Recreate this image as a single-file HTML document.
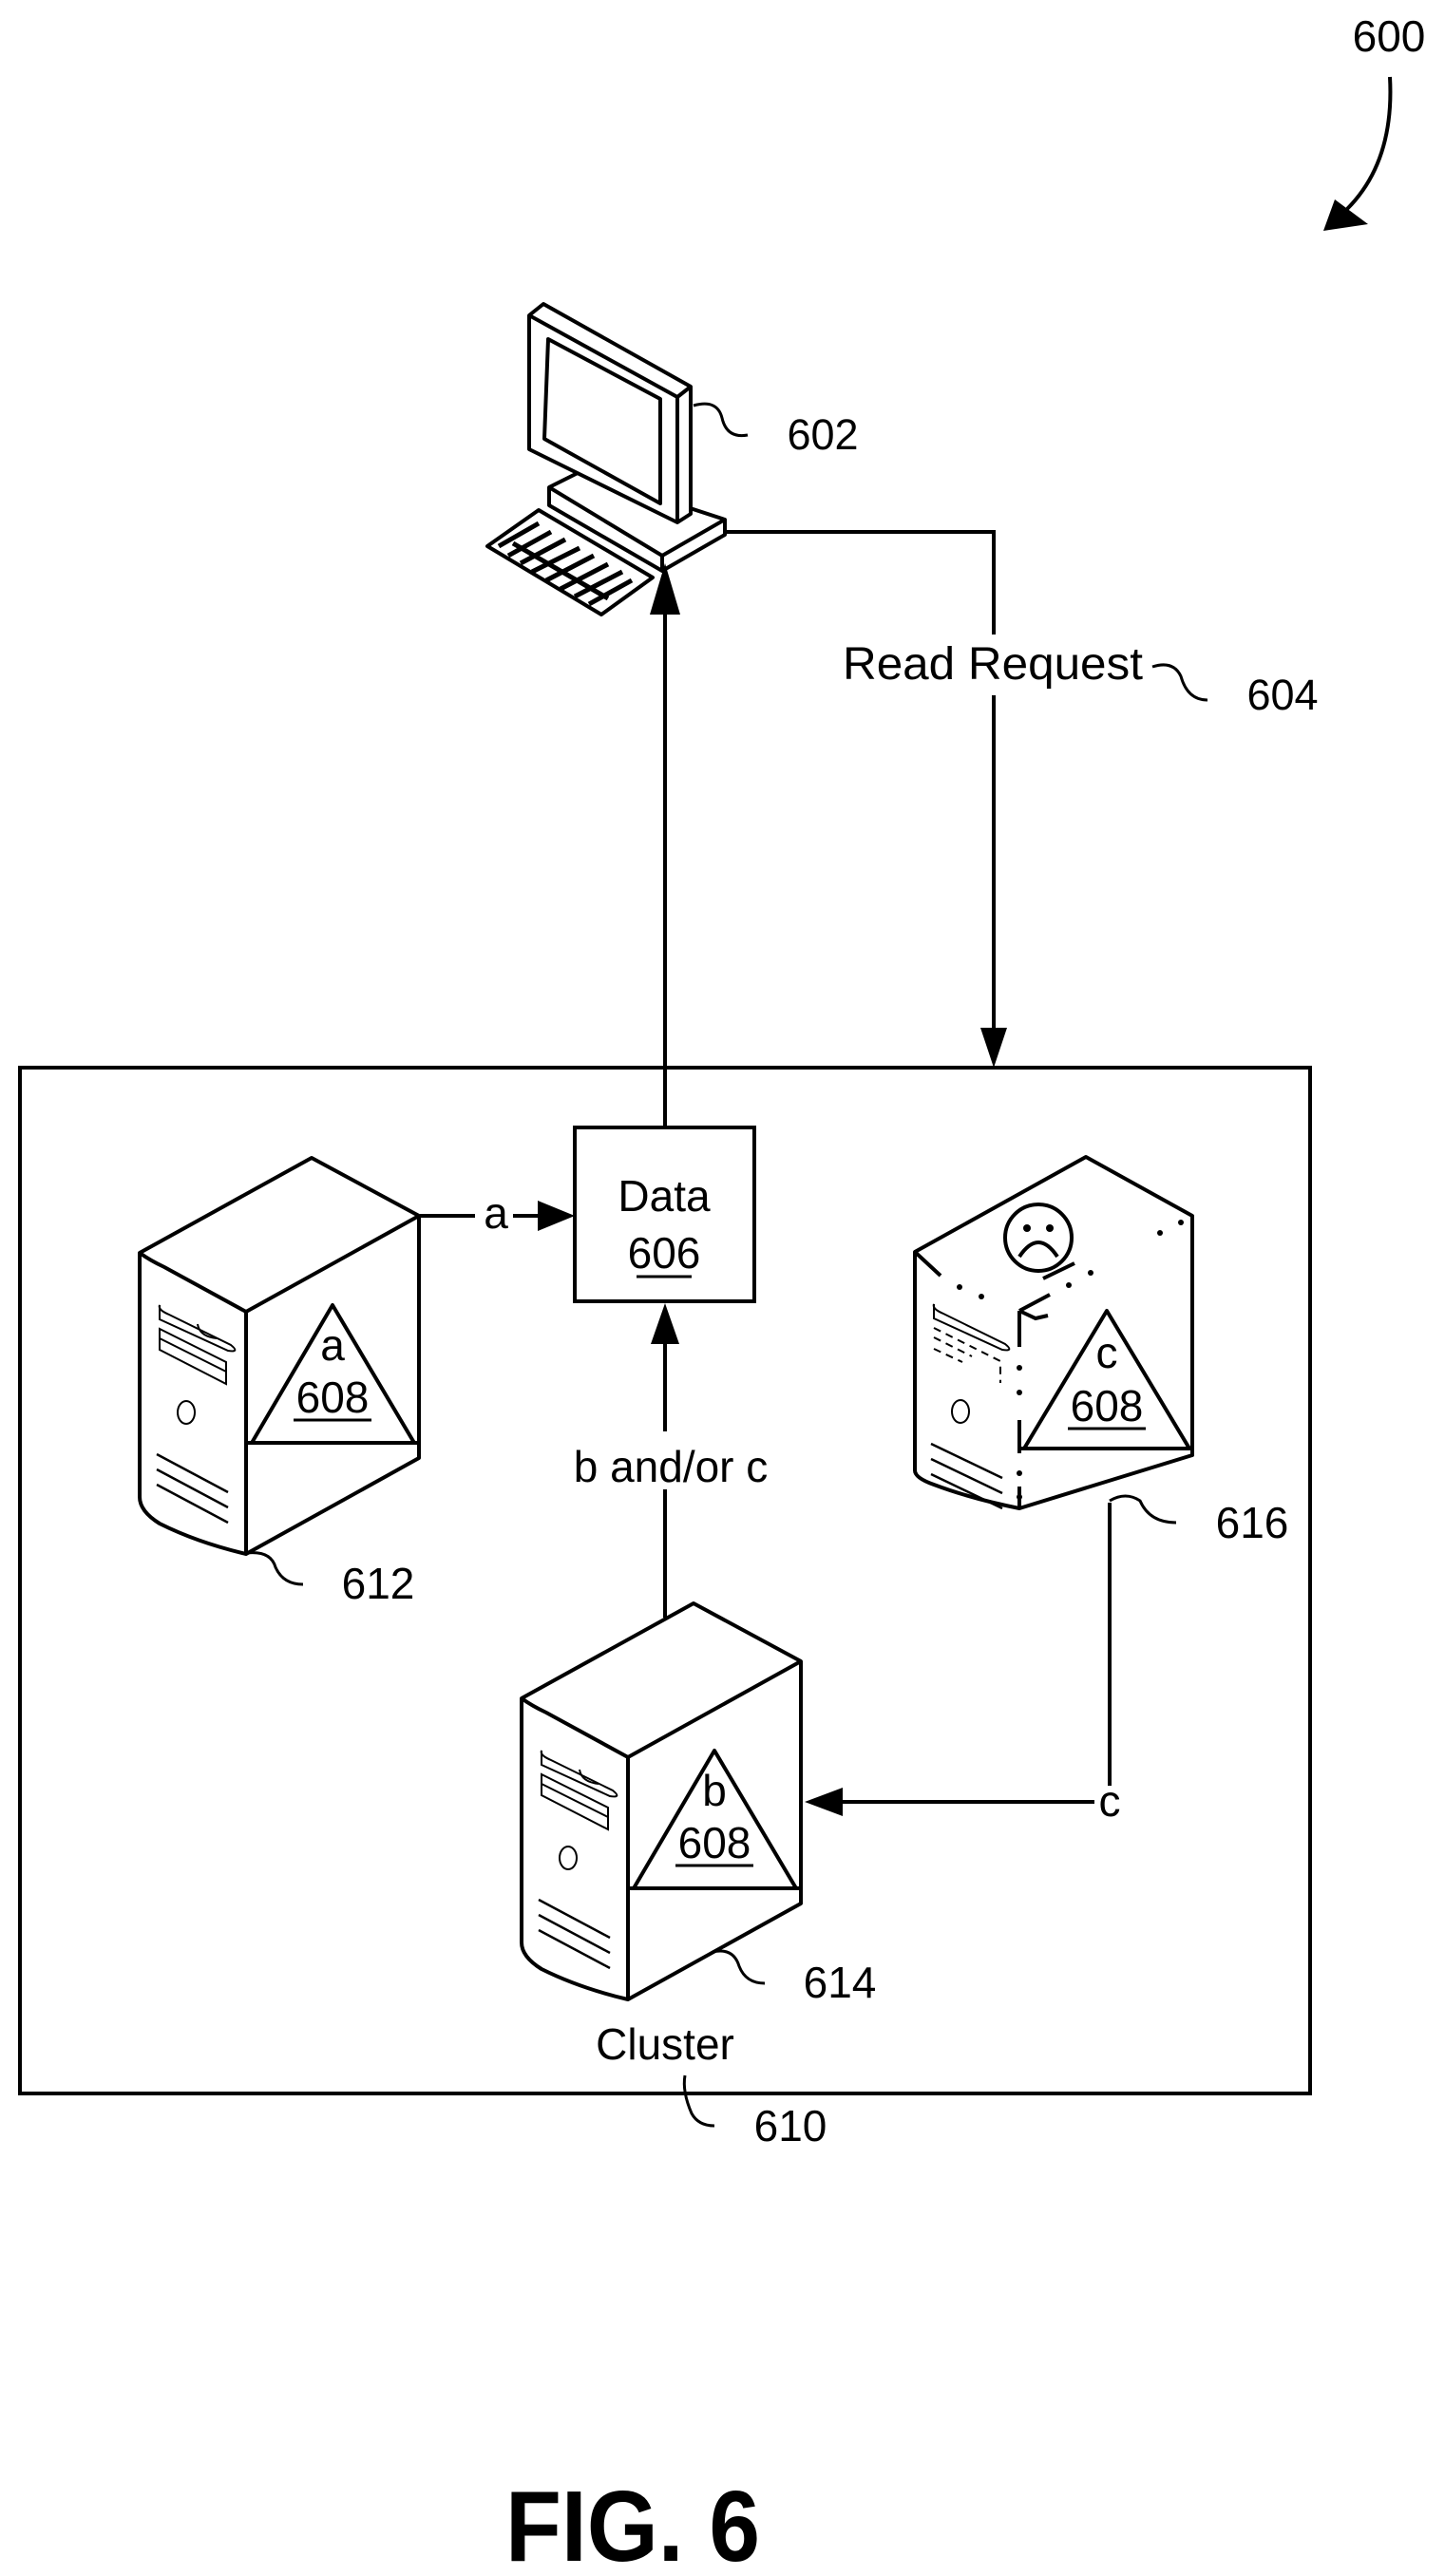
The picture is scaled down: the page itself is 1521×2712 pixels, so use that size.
<!DOCTYPE html>
<html><head><meta charset="utf-8"><style>
html,body{margin:0;padding:0;background:#fff;}
svg{display:block;}
text{font-family:"Liberation Sans",sans-serif;fill:#000;}
</style></head><body>
<svg width="1521" height="2712" viewBox="0 0 1521 2712" xmlns="http://www.w3.org/2000/svg">
<defs>
<g id="srv">
  <path d="M-181,100 L0,0 L113,61 L113,316 L-69,417 Q-120,405 -160,385 Q-181,372 -181,357 Z" fill="#fff" stroke="#000" stroke-width="4" stroke-linejoin="round"/>
  <path d="M-181,100 Q-170,108 -155,115 L-69,162 L113,61 M-69,162 L-69,417" fill="none" stroke="#000" stroke-width="4"/>
  <path d="M-63,300 L22,155 L108,300 Z M-69,300 L113,300" fill="none" stroke="#000" stroke-width="4" stroke-linejoin="round"/>
  <path d="M-160,155 Q-162,160 -150,165 L-85,197 Q-75,205 -88,203 L-160,170 Z" fill="none" stroke="#000" stroke-width="2"/>
  <path d="M-120,175 Q-118,188 -100,190" fill="none" stroke="#000" stroke-width="2"/>
  <path d="M-160,180 L-90,215 L-90,238 L-160,202 Z M-160,190 L-90,225" fill="none" stroke="#000" stroke-width="2"/>
  <ellipse cx="-132" cy="268" rx="9" ry="12" fill="none" stroke="#000" stroke-width="2"/>
  <path d="M-163,312 L-88,352 M-163,328 L-88,368 M-163,344 L-88,384" fill="none" stroke="#000" stroke-width="2.5"/>
</g>
</defs>

<text x="1462" y="54" font-size="46" text-anchor="middle">600</text>
<path d="M1463,81 Q1468,170 1418,220" fill="none" stroke="#000" stroke-width="4"/>
<polygon points="1393,243 1405,210 1440,236" fill="#000"/>

<g stroke="#000" stroke-width="4" fill="#fff" stroke-linejoin="round">
  <polygon points="567,537 687,608 633,647 513,575"/>
  <path d="M525,575 L567,551 M535,585 L580,560 M548,593 L595,568 M560,602 L610,577 M575,611 L625,585 M590,620 L640,594 M605,628 L655,602 M620,636 L665,611 M540,572 L640,630" fill="none" stroke-width="5"/>
  <path d="M578,513 L610,497 L763,547 L763,563 L697,601 L578,532 Z"/>
  <path d="M578,513 L697,585 L763,547 M697,585 L697,601" fill="none"/>
  <polygon points="557,332 572,320 727,407 727,541 713,550 557,473"/>
  <path d="M557,332 L713,418 L727,407 M713,418 L713,550" fill="none"/>
  <polygon points="577,357 695,420 695,530 573,462"/>
</g>
<path d="M730,427 Q755,420 760,440 Q765,462 787,458" fill="none" stroke="#000" stroke-width="3"/>
<text x="866" y="473" font-size="45" text-anchor="middle">602</text>

<path d="M763,560 L1046,560 L1046,668 M1046,732 L1046,1084" fill="none" stroke="#000" stroke-width="4"/>
<polygon points="1046,1124 1032,1082 1060,1082" fill="#000"/>
<text x="1045" y="715" font-size="48" text-anchor="middle" textLength="316" lengthAdjust="spacingAndGlyphs">Read Request</text>
<path d="M1213,702 Q1235,695 1243,712 Q1250,737 1271,737" fill="none" stroke="#000" stroke-width="3"/>
<text x="1350" y="747" font-size="45" text-anchor="middle">604</text>

<path d="M700,1187 L700,640" fill="none" stroke="#000" stroke-width="4"/>
<polygon points="700,593 684,647 716,647" fill="#000"/>

<rect x="21" y="1124" width="1358" height="1080" fill="none" stroke="#000" stroke-width="4"/>
<text x="700" y="2168" font-size="46" text-anchor="middle">Cluster</text>
<path d="M721,2185 Q718,2202 728,2225 Q735,2238 752,2238" fill="none" stroke="#000" stroke-width="3"/>
<text x="832" y="2254" font-size="46" text-anchor="middle">610</text>

<rect x="605" y="1187" width="189" height="183" fill="#fff" stroke="#000" stroke-width="4"/>
<text x="699" y="1275" font-size="46" text-anchor="middle">Data</text>
<text x="699" y="1335" font-size="46" text-anchor="middle">606</text>
<line x1="670" y1="1344" x2="728" y2="1344" stroke="#000" stroke-width="3"/>

<g transform="translate(328,1219)"><use href="#srv"/>
  <text x="22" y="213" font-size="46" text-anchor="middle">a</text>
  <text x="22" y="268" font-size="46" text-anchor="middle">608</text>
  <line x1="-19" y1="276" x2="63" y2="276" stroke="#000" stroke-width="3"/>
</g>
<path d="M442,1280 L500,1280 M540,1280 L575,1280" stroke="#000" stroke-width="4"/>
<text x="522" y="1293" font-size="46" text-anchor="middle">a</text>
<polygon points="605,1280 566,1264 566,1296" fill="#000"/>
<path d="M259,1635 Q285,1632 290,1650 Q298,1668 319,1668" fill="none" stroke="#000" stroke-width="3"/>
<text x="398" y="1683" font-size="46" text-anchor="middle">612</text>

<path d="M700,1410 L700,1507 M700,1568 L700,1703" stroke="#000" stroke-width="4"/>
<polygon points="700,1372 685,1415 715,1415" fill="#000"/>
<text x="706" y="1560" font-size="46" text-anchor="middle">b and/or c</text>

<g transform="translate(730,1688)"><use href="#srv"/>
  <text x="22" y="213" font-size="46" text-anchor="middle">b</text>
  <text x="22" y="268" font-size="46" text-anchor="middle">608</text>
  <line x1="-19" y1="276" x2="63" y2="276" stroke="#000" stroke-width="3"/>
</g>
<path d="M750,2055 Q772,2050 778,2070 Q785,2088 805,2088" fill="none" stroke="#000" stroke-width="3"/>
<text x="884" y="2103" font-size="46" text-anchor="middle">614</text>

<g transform="translate(1143,1218)" stroke="#000" fill="none">
  <path d="M-180,100 L0,0 L112,62 L112,314 L-70,370 Q-120,360 -160,345 Q-180,338 -180,330 Z" fill="#fff" stroke-width="4" stroke-linejoin="round"/>
  <path d="M-180,100 L-153,125 M-70,162 L-53,170 L-40,167 M-70,162 L-38,145 M-70,162 L-70,200 M-70,277 L-70,312 M-70,347 L-70,370 M-45,128 L-12,112" stroke-width="4"/>
  <g fill="#000" stroke="none">
    <circle cx="-133" cy="137" r="3"/><circle cx="-110" cy="147" r="3"/><circle cx="-18" cy="135" r="3"/>
    <circle cx="5" cy="122" r="3"/><circle cx="78" cy="80" r="3"/><circle cx="100" cy="69" r="3"/>
    <circle cx="-70" cy="222" r="3"/><circle cx="-70" cy="248" r="3"/><circle cx="-70" cy="333" r="3"/><circle cx="-70" cy="358" r="3"/>
  </g>
  <circle cx="-50" cy="85" r="35" stroke-width="4"/>
  <circle cx="-62" cy="75" r="4" fill="#000" stroke="none"/><circle cx="-38" cy="75" r="4" fill="#000" stroke="none"/>
  <path d="M-70,105 Q-50,75 -30,105" stroke-width="4"/>
  <path d="M-65,307 L22,162 L109,307 Z M-70,307 L112,307" stroke-width="4" stroke-linejoin="round"/>
  <path d="M-160,155 Q-162,160 -150,165 L-85,197 Q-75,205 -88,203 L-160,170 Z" stroke-width="2"/>
  <path d="M-160,180 L-90,215 L-90,238 M-160,190 L-120,210 M-160,202 L-130,216" stroke-width="2" stroke-dasharray="8 6"/>
  <ellipse cx="-132" cy="268" rx="9" ry="12" stroke-width="2"/>
  <path d="M-163,302 L-88,338 M-163,318 L-88,354 M-163,334 L-88,370" stroke-width="2.5"/>
  <text x="22" y="222" font-size="46" text-anchor="middle" fill="#000" stroke="none">c</text>
  <text x="22" y="278" font-size="46" text-anchor="middle" fill="#000" stroke="none">608</text>
  <line x1="-19" y1="286" x2="63" y2="286" stroke-width="3"/>
</g>
<path d="M1168,1580 Q1185,1570 1200,1580 Q1210,1603 1238,1603" fill="none" stroke="#000" stroke-width="3"/>
<text x="1318" y="1619" font-size="46" text-anchor="middle">616</text>

<path d="M1168,1582 L1168,1880 M1152,1897 L885,1897" fill="none" stroke="#000" stroke-width="4"/>
<polygon points="847,1897 887,1882 887,1912" fill="#000"/>
<text x="1168" y="1912" font-size="46" text-anchor="middle">c</text>

<text x="532" y="2696" font-size="106" font-weight="bold" textLength="268" lengthAdjust="spacingAndGlyphs">FIG. 6</text>
</svg>
</body></html>
